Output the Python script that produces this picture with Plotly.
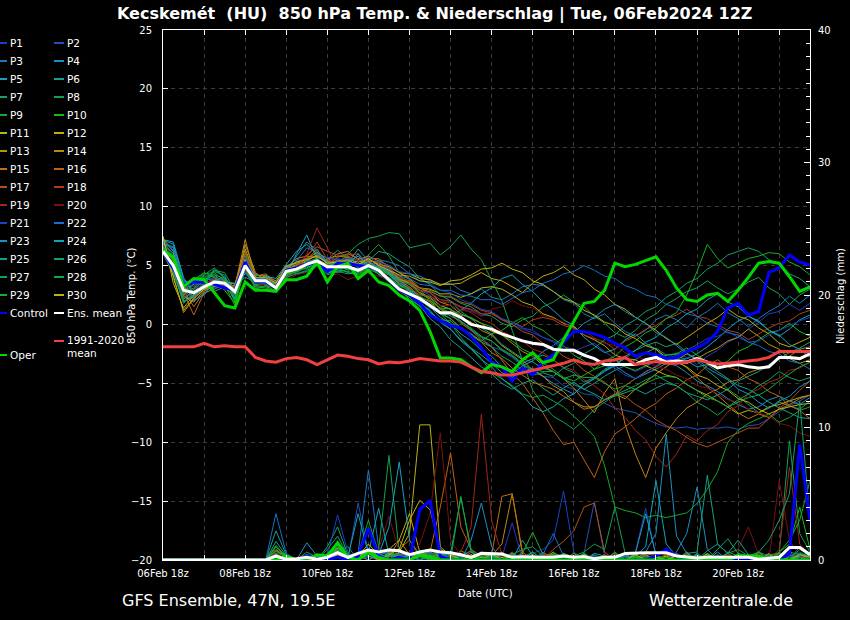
import plotly.graph_objects as go
import pandas as pd

# ---------------- time axis (6-hourly, 06Feb 18z .. 22Feb 12z) ----------------
times = pd.date_range("2024-02-06 18:00", periods=64, freq="6h")
tick_labels_fmt = "%d%b %Hz"

# ---------------- 850 hPa temperature (°C) ----------------
t_control = [6.2,4.8,3.3,3.6,3.6,3.4,3.1,2.9, 5.3,3.6,3.6,3.1,4.6,4.8,5.05,5.3, 4.5,5.2,5.2,5.0,4.9,4.6,3.8,2.9,
             2.5,1.8,0.8,0.3,-0.1,-0.3,-1.0,-2.0, -3.2,-3.6,-4.8,-3.7,-4.3,-3.2,-2.6,-1.5, -0.6,-0.6,-0.8,-1.1,-1.6,-2.0,-2.7,-2.4,
             -2.6,-2.85,-2.85,-2.3,-2.0,-1.5,-0.6,1.4, 1.8,0.8,1.1,4.4,4.8,5.9,5.3,5.05]
t_oper = [6.3,5.7,3.2,3.9,3.8,2.7,1.6,1.4, 3.6,2.9,2.9,2.8,3.8,3.8,4.1,5.3, 3.6,4.9,5.2,3.9,4.6,3.6,3.3,2.5,
          2.0,1.2,-0.6,-2.85,-2.85,-3.0,-3.6,-4.1, -3.4,-3.6,-4.0,-3.0,-2.4,-3.25,-3.0,-1.3, 0.3,1.8,1.95,2.9,5.2,4.9,5.1,5.4,
          5.75,4.6,3.1,2.1,1.95,2.5,2.65,1.95, 2.9,4.0,5.2,5.35,5.2,4.05,2.8,3.2]
t_mean = [6.2,5.0,2.9,2.7,3.2,3.6,3.5,2.8, 5.0,3.7,3.7,3.1,4.5,4.7,5.1,5.4, 4.9,4.9,4.9,4.6,5.0,4.6,3.8,3.0,
          2.6,2.2,1.6,1.0,1.0,0.6,0.0,-0.2, -0.4,-0.8,-1.1,-1.4,-1.6,-1.7,-2.1,-2.2, -2.2,-2.6,-2.9,-3.4,-3.4,-3.4,-3.4,-3.0,
          -2.8,-3.2,-3.1,-3.2,-2.9,-3.2,-3.7,-3.5, -3.4,-3.6,-3.7,-3.6,-2.8,-2.8,-2.9,-2.5]
t_clim = [-1.9,-1.9,-1.9,-1.9,-1.6,-1.9,-1.8,-1.9, -1.9,-2.8,-3.1,-3.2,-2.9,-2.8,-3.0,-3.4, -3.0,-2.6,-2.7,-2.9,-3.0,-3.35,-3.2,-3.25,
          -3.1,-2.9,-3.0,-3.1,-3.1,-3.2,-3.6,-4.0, -4.1,-4.3,-4.3,-4.1,-3.9,-3.7,-3.5,-3.3, -3.0,-3.3,-3.4,-3.1,-3.0,-2.8,-3.4,-3.3,
          -3.15,-3.3,-3.3,-3.2,-3.0,-3.2,-3.35,-3.3, -3.2,-3.1,-3.0,-2.8,-2.3,-2.3,-2.3,-2.3]

t_p01 = [6.5,5.5,3.5,3.0,3.4,3.3,3.0,2.5,4.8,3.5,3.8,3.2,4.4,5.0,5.6,5.8,5.2,5.0,5.5,4.8,5.3,4.9,
         4.5,3.9,3.5,2.9,2.7,2.1,2.0,1.5,1.2,0.7,1.0,0.4,0.0,-0.4,-0.7,-1.1,-1.5,-2.1,-2.3,-1.9,-1.6,-2.3,-2.9,-3.6,
         -4.0,-3.6,-3.1,-2.9,-2.4,-2.8,-3.4,-2.7,-2.2,-1.5,-1.1,-0.4,0.2,0.9,1.1,1.7,1.2,1.8]
t_p02 = [6.0,4.8,2.5,2.9,3.8,3.9,3.4,3.0,5.5,4.0,3.5,3.4,4.8,4.6,5.3,6.0,5.4,5.6,5.3,5.2,5.1,5.2,
         4.8,4.1,3.6,2.9,2.5,1.6,1.3,0.3,-0.5,-1.1,-1.9,-2.2,-2.8,-3.5,-3.9,-4.4,-4.5,-5.2,-5.5,-5.9,-6.0,-6.7,-7.1,-7.3,
         -7.5,-8.0,-8.4,-8.7,-8.8,-8.7,-8.9,-8.8,-8.8,-8.7,-8.9,-8.6,-8.5,-8.0,-7.4,-6.9,-6.5,-6.0]
t_p03 = [6.8,6.5,3.0,2.0,2.6,3.1,3.8,2.2,4.5,3.2,3.9,3.0,4.0,5.4,6.5,6.2,5.0,4.7,5.8,5.0,4.6,5.5,
         5.3,5.0,4.3,4.1,3.7,3.4,3.5,2.9,2.6,3.0,2.3,2.1,2.6,3.2,3.4,3.3,2.8,2.1,1.8,0.9,0.5,0.9,0.1,-0.6,
         -1.0,-0.5,0.4,0.8,0.4,-0.3,0.6,1.1,1.8,1.0,0.5,-0.2,0.5,1.1,1.6,2.4,1.8,2.5]
t_p04 = [7.0,6.0,2.2,2.4,3.0,3.4,3.9,2.6,5.2,3.0,3.3,2.8,4.6,4.5,5.0,5.7,5.5,6.3,5.6,4.9,5.6,5.0,
         4.6,3.9,2.9,1.9,1.1,0.2,-0.4,-1.3,-2.0,-2.6,-3.3,-4.1,-4.5,-4.0,-3.7,-4.4,-5.0,-5.5,-5.9,-5.1,-4.6,-4.0,-3.5,-4.1,
         -4.6,-4.2,-3.8,-3.3,-3.5,-4.1,-4.8,-5.2,-5.7,-6.3,-6.8,-7.2,-7.0,-6.4,-6.1,-6.5,-6.8,-6.2]
t_p05 = [7.2,6.8,3.8,2.8,3.5,2.8,3.2,3.3,4.0,3.6,4.2,3.5,4.2,6.0,7.6,5.5,4.5,4.9,5.2,6.4,5.4,4.8,
         4.4,3.5,3.1,2.3,1.7,0.9,0.8,1.2,1.8,2.6,3.1,3.9,4.2,3.4,2.8,1.9,1.2,0.4,-0.1,-1.1,-1.8,-2.4,-2.1,-1.3,
         -0.8,-1.6,-2.1,-3.0,-3.0,-2.9,-2.5,-1.9,-1.2,-0.4,0.3,0.7,0.3,-0.5,-1.0,-0.4,0.4,0.8]
t_p06 = [6.4,5.2,2.0,2.3,3.6,4.3,3.2,2.4,5.6,3.9,4.0,3.3,4.9,4.8,4.7,5.2,4.6,4.4,4.7,4.5,5.2,4.2,
         3.9,3.1,2.1,1.6,0.5,-0.2,-1.3,-2.0,-2.8,-3.6,-4.2,-5.0,-5.5,-5.0,-4.7,-5.4,-6.0,-5.4,-4.9,-5.5,-5.0,-4.4,-3.9,-3.5,
         -3.0,-2.4,-2.0,-2.6,-2.5,-3.1,-3.6,-3.4,-4.0,-4.6,-5.2,-5.5,-6.0,-6.6,-7.1,-7.5,-7.9,-8.0]
t_p07 = [6.6,5.6,2.8,3.4,4.0,4.1,3.6,2.0,4.9,3.4,3.6,3.0,4.3,4.4,4.9,5.1,4.2,4.6,4.5,4.3,4.8,4.4,
         4.0,3.3,2.4,2.1,1.4,1.3,0.7,0.3,-0.4,-1.1,-1.4,-2.1,-2.6,-3.3,-2.9,-2.6,-3.0,-3.7,-4.1,-4.9,-4.5,-3.8,-3.4,-2.9,
         -2.2,-1.8,-1.5,-1.9,-1.6,-2.4,-3.1,-3.9,-4.6,-5.5,-6.1,-6.8,-7.5,-7.1,-6.6,-6.9,-7.2,-6.5]
t_p08 = [6.0,4.5,1.8,2.6,3.3,4.6,4.4,2.9,5.3,3.8,3.7,3.6,4.7,4.3,4.6,5.0,4.7,5.3,4.9,4.7,5.0,4.6,
         4.3,3.7,3.4,2.9,2.8,2.4,2.3,1.8,1.5,0.9,0.7,0.1,-0.2,0.4,0.7,1.5,1.9,2.5,1.9,1.5,0.7,0.1,-0.7,-1.1,
         -0.5,0.4,0.9,1.7,2.2,2.8,3.1,3.7,3.1,2.6,3.0,3.6,4.0,3.1,2.6,1.7,2.5,3.0]
t_p09 = [6.9,5.9,3.3,3.6,4.1,4.2,3.9,3.1,6.0,3.9,3.4,3.2,4.5,4.7,5.2,5.5,5.1,5.2,4.6,4.8,5.9,6.8,
         5.8,4.4,3.8,2.9,2.1,0.9,0.1,-1.1,-2.0,-2.9,-4.1,-4.6,-5.2,-5.9,-6.2,-6.0,-6.5,-7.0,-7.8,-8.6,-9.5,-12.0,-15.5,-15.8,
         -16.0,-16.4,-16.2,-16.4,-16.2,-16.0,-15.2,-14.0,-12.5,-10.0,-9.0,-8.4,-8.0,-7.6,-8.3,-7.9,-7.3,-7.0]
t_p10 = [6.3,5.3,2.6,3.1,3.9,3.7,2.9,1.8,4.7,3.3,3.2,2.9,4.1,4.5,4.8,5.3,4.3,4.8,4.4,4.2,4.7,4.3,
         3.6,2.8,2.3,1.5,1.0,0.4,0.3,-0.4,-0.8,-1.4,-0.8,-0.5,0.1,0.6,-0.1,-0.5,-1.2,-1.8,-2.6,-3.1,-3.8,-3.5,-3.0,-3.6,
         -3.9,-3.5,-3.1,-2.6,-2.5,-2.0,-2.6,-3.2,-3.6,-3.1,-2.3,-1.9,-1.3,-0.7,-0.5,0.1,-0.6,-1.0]
t_p11 = [7.5,3.5,1.4,2.5,3.1,3.5,3.3,2.7,5.0,3.6,3.9,3.4,4.6,5.1,5.3,5.6,5.0,5.1,5.2,4.9,5.3,4.7,
         4.4,3.8,3.6,3.1,3.0,2.6,2.6,2.3,2.6,3.1,3.2,3.0,2.5,1.9,1.6,0.9,0.6,0.1,-0.2,-0.9,-1.3,-1.8,-2.6,-2.9,
         -3.0,-3.5,-3.9,-4.3,-4.5,-5.1,-5.6,-6.0,-6.5,-7.0,-7.6,-7.3,-7.5,-7.0,-6.8,-6.5,-6.2,-6.0]
t_p12 = [7.3,6.2,3.1,2.8,3.2,3.6,3.7,3.4,6.4,4.2,4.1,3.7,5.0,5.2,5.4,5.9,5.3,5.4,5.5,5.3,5.5,5.1,
         4.9,4.4,4.3,3.9,3.8,3.4,3.4,3.5,4.0,4.4,3.9,3.7,3.2,2.7,3.5,4.1,4.4,4.9,4.2,3.8,3.0,2.5,1.7,1.3,
         0.6,0.1,-0.5,-1.2,-1.7,-1.1,-0.5,0.1,0.6,1.3,0.7,0.4,-0.3,-0.8,-1.6,-1.9,-1.5,-1.1]
t_p13 = [6.7,5.0,2.4,1.9,2.9,3.2,3.5,2.8,6.8,4.4,3.7,3.1,4.7,5.3,5.6,6.1,5.6,5.8,5.7,5.1,5.4,5.3,
         4.6,3.9,3.5,2.7,2.3,1.6,1.3,0.6,0.2,-0.5,-0.9,-1.8,-2.4,-3.0,-3.9,-4.4,-5.2,-5.7,-6.6,-7.0,-7.0,-6.4,-5.9,-6.3,
         -5.5,-4.9,-4.2,-3.6,-3.0,-2.5,-2.9,-2.4,-2.0,-1.4,-1.1,-0.4,-1.0,-1.7,-2.1,-2.9,-3.3,-3.0]
t_p14 = [6.1,4.2,1.0,2.2,3.0,3.8,3.6,3.2,7.2,4.0,3.6,3.3,4.8,5.6,5.8,5.7,5.4,6.0,6.2,5.5,5.8,5.4,
         5.0,4.4,3.9,3.1,2.7,1.9,1.6,0.9,0.5,0.1,-0.6,-0.9,-1.6,-2.3,-2.7,-3.5,-4.0,-4.6,-5.4,-6.5,-7.5,-5.8,-4.6,-8.5,
         -11.0,-13.0,-10.5,-9.2,-8.0,-7.1,-6.6,-5.9,-5.5,-4.9,-4.7,-4.1,-3.8,-3.5,-2.9,-2.7,-2.1,-1.9]
t_p15 = [6.5,5.4,2.9,1.5,2.8,3.3,3.1,2.6,5.8,3.7,3.8,3.5,4.4,4.9,5.0,5.4,4.8,5.5,5.4,5.0,4.9,4.9,
         4.5,3.7,3.2,2.4,1.9,1.0,0.5,-0.3,-0.9,-1.5,-2.4,-2.9,-3.7,-4.3,-4.9,-5.2,-5.5,-6.1,-6.6,-7.2,-7.0,-6.4,-6.0,-5.2,
         -4.6,-4.0,-3.6,-3.1,-3.0,-3.7,-4.5,-5.3,-6.0,-6.8,-7.5,-8.0,-7.6,-7.9,-7.2,-6.8,-6.3,-6.0]
t_p16 = [6.2,4.9,2.7,0.8,2.7,3.0,3.4,2.9,6.2,4.1,4.3,3.6,4.5,5.0,5.5,6.4,5.1,5.7,6.0,5.6,5.6,5.6,
         4.8,4.1,3.6,2.7,2.1,1.3,0.9,0.1,-0.5,-1.3,-1.9,-3.1,-4.2,-5.0,-6.2,-7.5,-9.0,-10.2,-10.0,-11.5,-13.0,-10.8,-9.3,-8.7,
         -8.0,-7.2,-6.7,-5.9,-5.4,-4.7,-4.3,-3.5,-3.0,-3.6,-3.9,-4.6,-5.0,-5.7,-6.1,-6.9,-7.3,-8.0]
t_p17 = [6.8,5.7,3.4,2.3,3.3,3.5,3.7,3.0,5.4,3.8,3.6,3.0,4.2,4.7,5.9,6.6,6.2,5.9,5.8,5.4,5.5,5.2,
         4.6,4.0,3.7,3.1,2.9,2.4,2.4,1.9,1.7,1.2,1.0,0.4,0.0,-0.6,-0.9,-1.6,-2.0,-2.7,-3.1,-3.9,-4.4,-4.9,-5.7,-6.1,
         -6.8,-7.3,-8.1,-8.6,-9.0,-9.6,-10.1,-10.4,-10.0,-9.6,-9.2,-8.8,-8.8,-8.0,-7.1,-6.5,-5.6,-4.8]
t_p18 = [6.3,5.1,2.3,2.7,3.4,3.9,3.8,3.1,5.1,3.5,3.4,2.7,3.9,4.6,5.7,7.0,5.5,5.1,5.9,6.0,5.2,4.5,
         4.2,3.5,3.1,2.5,2.4,1.9,1.9,1.5,1.3,0.9,0.9,0.4,0.2,-0.2,0.4,0.6,0.4,-0.1,-0.3,-0.9,-1.2,-1.5,-2.1,-1.4,
         -1.0,-0.4,-0.1,0.5,0.8,1.3,0.7,0.5,0.0,-0.5,-0.7,-1.3,-0.8,-0.3,0.1,0.3,0.9,1.2]
t_p19 = [6.6,5.5,3.2,3.3,3.7,3.6,3.3,2.5,4.6,3.1,3.5,3.2,4.3,4.8,6.0,8.2,6.5,4.8,5.0,4.6,4.5,5.0,
         4.8,4.1,3.6,2.9,2.7,2.1,2.0,1.4,1.0,0.4,0.1,-0.6,-1.0,-1.4,-2.1,-2.4,-3.0,-3.6,-3.9,-4.7,-5.2,-5.9,-7.1,-7.9,
         -9.0,-9.8,-11.2,-12.1,-11.0,-9.4,-9.9,-9.0,-8.5,-7.4,-6.9,-5.9,-5.5,-4.9,-4.6,-3.9,-3.7,-3.2]
t_p20 = [6.4,5.3,3.0,2.9,3.5,3.4,3.0,2.4,4.9,3.4,3.7,3.3,3.8,4.2,4.4,4.9,4.0,4.3,3.8,4.1,4.4,4.1,
         3.8,3.1,2.8,2.2,2.1,1.6,1.6,1.2,1.1,0.8,1.3,1.5,2.0,1.6,1.4,0.8,0.5,0.2,-0.4,-0.6,-1.1,-1.6,-1.8,-2.4,
         -2.7,-3.0,-3.6,-3.8,-4.3,-4.6,-5.2,-5.4,-5.9,-6.4,-6.6,-7.2,-7.5,-7.8,-8.4,-8.6,-9.2,-9.5]
t_p21 = [6.7,5.8,3.6,3.2,3.8,4.0,3.6,2.3,5.7,3.6,3.9,3.1,4.4,4.8,5.3,5.6,5.7,5.5,5.6,5.4,5.7,5.3,
         5.0,4.5,4.3,3.7,3.5,2.9,2.7,2.1,1.8,1.3,1.1,0.5,0.2,-0.3,-0.5,-1.1,-1.4,-1.9,-2.1,-2.7,-3.0,-3.5,-3.7,-4.3,
         -4.6,-4.1,-3.5,-3.0,-2.6,-2.2,-1.7,-1.2,-1.0,-0.6,-1.1,-1.5,-1.4,-0.9,-0.5,-0.1,0.3,0.6]
t_p22 = [7.1,6.3,3.7,3.5,3.3,3.0,3.5,2.7,4.4,3.9,4.0,3.4,4.9,5.5,5.4,5.3,5.0,5.4,5.1,5.0,5.1,5.0,
         4.7,4.1,3.9,3.4,3.3,2.9,2.9,2.5,2.4,2.1,2.1,1.7,2.2,2.7,2.9,3.5,3.8,4.3,4.5,5.0,4.6,4.1,3.9,3.3,
         3.0,2.5,2.3,1.7,1.4,0.9,0.7,0.1,-0.2,-0.7,-0.9,-1.5,-1.8,-2.3,-2.5,-3.1,-3.3,-3.8]
t_p23 = [6.9,6.6,3.4,2.1,2.5,3.7,4.0,2.9,5.0,4.3,3.8,3.0,4.6,5.8,7.0,6.3,5.3,5.0,5.3,5.8,5.0,4.8,
         4.5,3.6,3.0,2.0,1.5,0.6,0.1,-0.8,-1.4,-2.2,-2.7,-3.6,-4.2,-3.5,-3.1,-2.3,-1.8,-1.1,-0.7,0.1,0.6,1.3,1.7,1.1,
         0.6,0.1,-0.7,-1.1,-1.8,-2.5,-2.9,-3.7,-4.2,-4.7,-5.5,-5.9,-6.6,-7.1,-6.5,-6.1,-5.3,-4.8]
t_p24 = [7.2,7.0,4.0,2.5,3.0,3.2,3.6,3.5,4.3,3.5,4.1,3.9,5.1,6.2,6.8,6.0,5.2,5.3,5.0,6.0,4.8,4.9,
         4.3,3.4,2.8,1.8,1.2,0.2,-0.4,-1.4,-2.1,-3.0,-3.6,-4.6,-5.3,-6.0,-7.0,-7.4,-7.0,-6.3,-5.9,-5.1,-4.6,-3.9,-3.5,-2.7,
         -2.2,-1.5,-1.1,-0.3,0.2,0.9,1.3,2.1,2.6,1.9,1.5,0.7,0.2,-0.5,-0.9,-1.7,-2.1,-2.8]
t_p25 = [6.2,4.6,2.1,3.0,3.7,4.5,4.2,2.2,5.4,3.7,3.5,3.2,4.5,4.6,5.0,5.3,4.4,4.7,4.8,4.6,5.4,6.2,
         6.0,5.4,4.9,3.9,3.4,2.5,2.0,1.1,0.5,-0.3,-0.8,-1.7,-2.3,-2.9,-3.2,-3.7,-4.0,-4.6,-5.1,-5.5,-5.9,-6.4,-6.1,-5.8,
         -5.5,-5.9,-5.4,-5.0,-5.2,-5.8,-6.1,-6.4,-6.0,-5.5,-4.8,-4.4,-4.0,-3.4,-2.9,-2.4,-2.0,-1.5]
t_p26 = [6.0,4.4,1.9,2.4,3.5,4.7,3.9,1.9,5.1,3.2,3.1,2.8,4.0,4.3,4.5,5.0,4.4,4.5,4.3,4.4,4.8,4.5,
         4.0,3.3,2.9,2.1,1.7,0.9,0.5,-0.3,-0.8,-1.5,-1.9,-2.7,-3.2,-3.9,-4.3,-4.1,-4.4,-3.7,-3.3,-2.5,-2.0,-1.3,-0.9,-0.1,
         0.4,1.1,1.5,2.3,2.8,3.5,3.9,4.7,5.2,5.9,6.2,6.5,6.2,5.5,5.1,4.3,3.9,3.2]
t_p27 = [6.4,5.1,2.5,3.5,4.2,4.8,4.0,2.5,5.0,3.8,3.6,3.4,4.7,4.8,5.1,5.4,4.9,5.1,6.0,6.8,7.3,7.5,
         7.8,7.7,6.5,6.7,6.9,5.9,6.6,7.6,6.4,5.5,3.8,2.0,-0.5,-3.0,-5.6,-6.8,-7.8,-8.3,-8.9,-8.1,-7.2,-6.6,-6.0,-5.6,
         -5.2,-4.7,-4.3,-4.8,-5.2,-5.8,-6.6,-7.1,-7.7,-7.0,-6.4,-5.9,-5.2,-4.7,-4.0,-4.5,-4.8,-4.5]
t_p28 = [6.6,5.4,2.8,3.7,4.3,4.4,3.7,2.1,4.8,3.0,3.3,3.1,4.2,4.5,5.0,5.2,4.6,4.9,4.7,4.5,5.1,4.8,
         4.4,3.8,3.4,2.6,2.2,1.4,1.0,0.2,-0.3,-1.0,-1.4,-2.2,-2.7,-3.4,-3.8,-4.0,-4.0,-4.6,-4.3,-4.5,-4.5,-5.0,-5.5,-5.2,
         -5.5,-5.0,-4.6,-4.4,-4.5,-5.1,-5.6,-6.2,-6.5,-7.0,-6.6,-6.2,-6.0,-5.5,-4.8,-4.2,-3.6,-3.2]
t_p29 = [6.5,5.6,3.1,3.8,4.4,4.0,3.4,1.6,5.2,3.4,3.5,3.0,4.3,4.6,5.2,5.6,4.9,5.3,4.9,4.7,5.0,4.8,
         4.2,3.4,3.0,2.3,2.0,1.4,1.3,0.8,0.6,0.1,-0.2,-0.9,-1.4,-2.1,-2.5,-3.3,-3.8,-4.5,-4.8,-4.3,-3.8,-3.1,-2.7,-1.9,
         -1.4,-0.7,-0.3,0.5,1.0,2.5,4.5,6.8,5.6,4.8,5.2,5.6,5.8,6.1,6.0,5.3,4.9,4.2]
t_p30 = [7.4,4.0,1.2,2.2,3.0,3.4,3.5,3.0,5.5,4.0,4.0,3.5,4.9,5.3,5.5,5.8,5.2,5.3,5.4,5.1,5.6,5.0,
         4.6,4.2,4.1,3.7,3.6,3.3,3.7,3.8,4.2,4.7,4.8,5.2,4.7,4.4,3.7,3.4,2.8,2.2,1.9,1.2,0.8,0.2,-0.1,-0.8,
         -1.2,-1.8,-2.1,-2.8,-3.2,-3.6,-4.3,-4.6,-5.2,-5.6,-6.3,-6.6,-7.2,-7.6,-7.2,-7.0,-6.8,-6.7]

# ---------------- precipitation (mm / 6h) ----------------
pr_control = [0,0,0,0,0,0,0,0, 0,0,0,0,0,0,0.3,0.1, 0,0.2,0,0.3,2.4,0.3,0,0.2, 0,3.8,4.5,0.3,0,0,0,0,
              0,0,0,0,0,0,0,0, 0,0,0,0,0,0,0,0, 0.3,0.8,0.3,0,0,0,0,0, 0,0,0,0,0,0.5,8.7,3.0]
pr_oper = [0,0,0,0,0,0,0,0, 0,0,0,0,0.3,0,0,0.4, 0.3,1.3,0.2,0,0.6,0.2,0,0, 0,0.4,0.2,0,0,0,0,0,
           0,0,0,0,0,0,0,0, 0,0,0,0,0,0,0,0, 0,0,0,0,0,0,0,0, 0.3,0.3,0.3,0,0,0,0,0]
pr_mean = [0,0,0,0,0,0,0,0, 0,0,0,0.3,0.05,0.1,0.2,0.05, 0.2,0.55,0.2,0.5,0.75,0.6,0.75,0.7,
           0.4,0.6,0.75,0.6,0.55,0.4,0.2,0.5, 0.45,0.45,0.2,0.25,0.2,0.2,0.2,0.3, 0.2,0.25,0.1,0.2,0.2,0.5,0.55,0.55,
           0.55,0.55,0.3,0.2,0.15,0.2,0.2,0.2, 0.2,0.2,0.05,0.1,0.2,0.95,0.95,0.4]

pr_p01 = [0,0,0,0,0,0,0,0, 0,0,0,0.3,0,0,0.2,0, 0,0.4,0,0.2,0.5,0,0.3,0, 0.2,0,0.4,0,0,0.3,0,0.5,
          0,0.2,2.8,0,0.3,0,0,0.2, 0,0.4,0,0,0.2,0,0.6,3.9, 0.3,0,0,0.2,0,0,0.1,0, 0,0.2,0,0,0,0.5,0,0.3]
pr_p02 = [0,0,0,0,0,0,0,0, 0,0,0,0.2,0,0,0,0, 0,0.3,0,4.3,0.6,0.2,0,0.3, 0,0.5,0,0.2,0,0,0.4,0,
          0,0,0,0.6,0,0.2,0,0, 0,0.5,4.4,0.3,0,0,0.2,0, 0,0.2,0,0,0,0,0,0.3, 0,0,0.4,0,0,0,0.6,0.2]
pr_p03 = [0,0,0,0,0,0,0,0, 0,0,0,0.4,0.1,0,0.3,0, 0.2,0.6,0,0.5,6.8,0.9,0.3,0, 0.4,0,0.6,0,0.2,0,0,0.3,
          0,0.4,0,0,0.2,0,0.3,0, 0,0,0.2,0,0,0,0,0.4, 0,0,0,0.2,0,0,0,0, 0,0.3,0,0,0,0,0.2,0]
pr_p04 = [0,0,0,0,0,0,0,0, 0,0,0,0.5,0,0,1.3,0.3, 0,0.5,0,0.2,0.4,0,0.6,0.2, 0.3,0.6,0,0.4,0,0.5,0,0,
          0.2,0,0.3,0,0,0.6,0,0.3, 0,0,0,0.3,0,0.2,0,0, 0.4,0,0.6,2.0,5.5,0.8,0,0.2, 0,0,0.3,0,0.2,0,0,0]
pr_p05 = [0,0,0,0,0,0,0,0, 0,0,0,0.3,0,0,0.2,0, 0,0.6,0,0.3,0.5,3.9,0.4,0.2, 0,0.3,0.2,0,0.4,0,0.2,0,
          0,0,0.5,0,0,0.2,0,0, 0.3,0,0,0,0.2,0,0.5,3.5, 0.4,0,0,0,0.3,0,0.6,0, 0.2,0,0,0,0,0.4,0,0.2]
pr_p06 = [0,0,0,0,0,0,0,0, 0,0,0,2.2,0.4,0,0.3,0, 0.5,0.8,0,0.3,0.2,0.6,0,0.4, 0,0.2,0.5,0,0,0.3,0,0.2,
          0,0.6,0,1.5,0.3,0,0,0, 0,0.3,0,0,0,0.5,0,0.3, 0,0,0.4,0,0,0.7,1.2,0.5, 0,0.4,0,0.3,0,0,1.0,0.5]
pr_p07 = [0,0,0,0,0,0,0,0, 0,0,0,0.4,0,0,0.3,0, 1.0,2.5,0.4,0.2,0.8,0,0.3,0.5, 0,0.4,0,0.3,0,0.2,0,0,
          0.3,0,0,0.2,0.6,0,0.4,0, 0,0,0.3,0,0,0,0.2,0, 0,0.3,0,0,0.5,0,0,0.2, 0,0,0.6,0.3,0,0,0.4,0]
pr_p08 = [0,0,0,0,0,0,0,0, 0,0,0,0.5,0,0,0.6,0.2, 0.3,0.7,1.0,0,0.4,0.8,7.9,0.6, 0.3,0,0.4,0,0.2,0,0,0.3,
          0,0.3,0,0,0.4,0,0.2,0, 0,0,0.3,0,0.6,0,0,0, 0.2,0,0,0.3,0,0,0,0.5, 0.8,0.3,0,0,0.5,9.0,2.0,0.6]
pr_p09 = [0,0,0,0,0,0,0,0, 0,0,0,0.6,0.2,0,0.3,0, 0.2,0.9,0,0.4,3.0,0.5,0,0.3, 0.2,0,0,0.5,0,0.3,0,0,
          0.4,0,0,0.2,0,0,0.3,0, 0,0.2,0,0,0,0,0,0, 0,0,0,0,0,0,0,0.2, 0,0.3,0,0,0,0.2,0,0.4]
pr_p10 = [0,0,0,0,0,0,0,0, 0,0,0,1.0,0.3,0,0.2,0, 0.4,1.3,0.2,0.5,0.6,0,0.3,0.4, 0,0.3,0,0.2,0.6,0,0.4,0,
          0.3,0,0,0.5,2.1,0.4,0,0.3, 0,0,0.2,0.3,0,0,0.4,0, 0,0.3,0,0,0,0.3,0,0, 0.5,0,0.2,0,0.6,1.2,4.0,0.8]
pr_p11 = [0,0,0,0,0,0,0,0, 0,0,0,0.3,0,0,0.2,0, 0,0.5,0,0.3,1.2,0.4,0,0.6, 2.0,10.2,10.2,1.0,0.3,0,0.4,0,
          0,0.2,0,0.3,0,0,0.6,0, 0,0,0.3,0,0,0.2,0,0, 0.3,0,0,0,0.4,0,0,0, 0,0.2,0,0.4,0,0,0.3,0]
pr_p12 = [0,0,0,0,0,0,0,0, 0,0,0,0.2,0,0,0.3,0, 0,0.9,0.3,0,0.4,0.6,0.8,1.5, 3.5,0.6,0.3,0.5,0,0.3,0,0.2,
          0,0,0.4,0,0.3,0,0,0.5, 0.2,0,0,0,0.3,0,0.2,0, 0,0.3,0,0,0,0.4,0,0, 0.2,0,0,0.5,0,0,0.2,0.3]
pr_p13 = [0,0,0,0,0,0,0,0, 0,0,0,0.4,0,0,0.4,0.2, 0,0.6,0,0.3,0.5,0,0.2,1.5, 0.4,0,0.8,0.3,0,0.5,0,0.4,
          0,0.6,0,0,0.3,0,0.4,0.2, 0,0.3,0,0.4,0,0,0.3,0, 0,0,0.5,0,0,0.2,0,0, 0.4,0,0,0,0.3,0,0,0.5]
pr_p14 = [0,0,0,0,0,0,0,0, 0,0,0,0.8,0.2,0,0,0.3, 0,0.4,0,0.6,0.3,0,0.5,0.2, 0,0.7,0.3,0,0.4,0,0.6,0,
          0.3,1.2,5.0,0.4,0,0.3,0,0, 0.5,0,0,0.3,0,0,0.2,0.4, 0,0,0,0.6,0,0,0.3,0, 0,0.4,0,0,0.2,0,0.3,0]
pr_p15 = [0,0,0,0,0,0,0,0, 0,0,0,0.4,0,0,0.2,0, 0.3,0.7,0,0.3,0,0.5,0,0.3, 0.6,0,0.4,0.2,0,0.7,0.3,0,
          0.4,4.8,5.0,0.6,0,0.2,0.4,0, 0,0.3,0,0,0.5,0,0,0.3, 0,0.4,0,0,0,0.3,0,0.2, 0,0,0.5,0,0,0.3,0,0]
pr_p16 = [0,0,0,0,0,0,0,0, 0,0,0,0.7,0.3,0,0.4,0, 0.2,0.5,0.3,0,0.6,0.4,0,0.8, 1.5,0.3,0.6,4.0,8.1,2.5,0.8,0.3,
          0,0.4,0,0.3,0,0.5,0.3,0, 0.3,0,0,0.2,0,0.4,0,0, 0.3,0,0,0.4,0,0,0.3,0, 0,0.2,0,0,0.6,0,0.4,0]
pr_p17 = [0,0,0,0,0,0,0,0, 0,0,0,0.3,0,0,0.3,0, 0,0.5,0,0.4,0.3,0,0.6,0.3, 0,0.4,0,0.3,0.5,0,0.2,0.4,
          0.3,0,0.6,0,0.3,0,0.8,1.4, 2.2,4.0,4.3,0.6,0,0.3,0,0.2, 0,0.4,0,0,0.3,0,0,0.4, 0,0,0.3,0,0.5,0,0,0.3]
pr_p18 = [0,0,0,0,0,0,0,0, 0,0,0,0.5,0,0,0.2,0, 0.4,0.6,0,0.2,0.5,0.3,0,0.4, 0.3,0,0.5,0,0.3,0,0.6,0,
          0,0.3,0,0.4,0,0,0.3,0, 0,0.2,0,0.3,0,0,0,0.5, 0.3,0,0,0.2,0,0,0.4,0, 0,0.3,0,0,0.2,0.6,0,0]
pr_p19 = [0,0,0,0,0,0,0,0, 0,0,0,0.3,0,0,0.2,0, 0,0.5,0,0.3,0.4,0.6,0,0.3, 0.4,0,0.5,0.3,0,0.6,2.5,11.0,
          3.0,0.4,0,0.3,0,0.5,0,0, 0.3,0,0,0.4,0,0.3,0,0, 0,0.5,0,0,0,0.3,0,0.2, 0,0,0.5,0,0.8,7.0,1.2,0.4]
pr_p20 = [0,0,0,0,0,0,0,0, 0,0,0,0.6,0,0,0,0.2, 0,0.3,0.4,0,0.5,0.8,3.3,0.6, 0.4,1.2,3.5,9.6,1.5,0.3,0,0.4,
          0,0.3,0,0.2,0,0.3,0,0, 0.2,0,0.3,0,0,0,0.3,0, 0,0.2,0,0,0.4,0,0,0.3, 0.8,2.5,0.4,0,6.0,1.5,0.3,0]
pr_p21 = [0,0,0,0,0,0,0,0, 0,0,0,0.4,0,0,0.4,0.2, 0.3,3.4,0.6,0,0.3,0.5,0,0.4, 0,0.3,0,0.6,0,0.2,0,0.3,
          0,0.4,0.3,0,0.5,0.8,1.5,5.2, 0.6,0,0.3,0,0,0.2,0,0, 0,0,0.3,0,0,0,0.4,0, 0.2,0,0,0,0,0.3,0,0.2]
pr_p22 = [0,0,0,0,0,0,0,0, 0,0,0,3.5,0.5,0,0.3,0, 0.2,0.6,0,0.4,0.7,0.3,0,0.5, 0.3,0,0.5,0,0.4,0,0.3,0,
          0.2,0,0.3,0,0,0.4,2.0,0.3, 0,0.3,0,0,0.2,0,0,0.3, 0,0,0.5,0,0,0.3,0,0, 0,0.4,0,0,0.3,0,0.2,0]
pr_p23 = [0,0,0,0,0,0,0,0, 0,0,0,0.4,0,0,0.2,0, 0,1.0,0.3,0.5,0,0.4,0.6,0, 0.5,0,0.3,0,0.6,0,1.5,4.3,
          1.0,0,0.4,0,0.3,0,0,0.5, 0,0.4,0,0,0,0.3,0,0.6, 2.0,9.5,1.8,0.5,0,0.4,0,0.3, 0,0,0.6,0,0.3,0,0,0.5]
pr_p24 = [0,0,0,0,0,0,0,0, 0,0,0,0.3,0,0,0.3,0, 0,0.4,0.2,3.5,0.5,0.4,2.5,7.4, 1.5,0.4,0,0.6,0,0.3,0.7,0,
          0.3,0,0.5,0,0,0.3,0,0.4, 0,0,0.5,0.3,0,0,0.3,1.0, 6.0,1.2,0.3,0,0.4,0,0.2,0, 0,0.4,0,0.3,0,0,0.3,0.6]
pr_p25 = [0,0,0,0,0,0,0,0, 0,0,0,1.4,0.3,0,0.3,0, 0.3,0.5,0,0.4,0.3,0,0.6,0.3, 0,0.4,0.6,0.3,0.5,4.7,0.8,0,
          0.4,0,0.3,0,0.6,0,0.3,0, 0,0.5,0,0.3,0,0.4,0,0, 0.3,0,0,0.5,0.6,6.4,1.2,0.5, 1.5,0.4,0,0.3,0,0.6,0.4,0.3]
pr_p26 = [0,0,0,0,0,0,0,0, 0,0,0,0.5,0,0,0.4,0, 0.8,1.8,0.3,0,0.5,0.3,0.4,0, 0.3,0,0.4,0,0,0.5,0,0.3,
          0,0.4,0,0.3,0,0,0.5,0.3, 0,0,0.4,0,0.3,0,0,0, 0.4,0,0,0,0.3,0,0.8,1.6, 0.5,0.3,0.6,1.5,3.0,5.0,12.0,3.0]
pr_p27 = [0,0,0,0,0,0,0,0, 0,0,0,1.0,0.2,0,0.3,0, 0.3,0.6,0,0.4,0.5,0,0.3,0.2, 0,0.3,0,0.5,0,0.4,0,0.6,
          0.3,0,0.4,0.8,1.0,0.3,0,0.4, 0.3,0.6,1.2,0.8,4.0,0.5,0.3,0, 0.2,0,0.4,0,0.3,0,0,0.6, 0.3,0,0,0.4,0.5,0,0.8,0.4]
pr_p28 = [0,0,0,0,0,0,0,0, 0,0,0,1.1,0.2,0,0.3,0, 0.4,0.7,0,0.3,0.5,0,0.4,0.3, 0,0.5,0.3,0.4,0,4.8,0.6,0,
          0.3,0,0.5,0,0.3,0,0.4,0, 0,0.3,0,0,0.4,0,0,0.3, 0,0.2,0,0.4,0,0,0.3,0, 0.4,0,0.3,0,0.6,1.5,3.0,6.0]
pr_p29 = [0,0,0,0,0,0,0,0, 0,0,0,0.7,0.2,0,0.4,0, 0.3,1.0,0,0.4,0.5,0.3,0,0.4, 0,0.3,0,0.4,0,0.5,0,0.3,
          0.4,0,0.3,0,0.4,0,0.2,0, 0,0.5,0,0.3,0,0,0.2,0, 0.3,0,0,0.2,0,0.4,0,0, 0.3,0,0.6,0,0.4,0,0.5,0.3]
pr_p30 = [0,0,0,0,0,0,0,0, 0,0,0,0.3,0,0,0.3,0, 0,0.4,0,0.3,0.6,0,0.4,0.8, 3.0,4.5,3.8,0.8,0.4,0,0.3,0,
          0.5,0,0.3,0,0.4,0,0,0.3, 0,0.4,0,0.2,0,0,0.4,0, 0.2,0,0.3,0,0,0.5,0,0, 0,0.3,0,0,0.2,0,0.4,0.2]

member_names = ["P%d" % k for k in range(1, 31)]
member_colors = ["#2838c8", "#2050b8", "#1e78c0", "#1a90c0", "#18a0b8", "#14a08c", "#14a070", "#14a050",
                 "#14a82c", "#18b818", "#b4b414", "#c0ac10", "#b89410", "#c08414", "#c07018", "#c06014",
                 "#b45014", "#b03c18", "#a02418", "#7c1010", "#1444c8", "#1470c8", "#1c90c0", "#14a4b8",
                 "#14a084", "#14a06c", "#14a050", "#14a838", "#18b020", "#bcb410"]
member_temp = [t_p01, t_p02, t_p03, t_p04, t_p05, t_p06, t_p07, t_p08, t_p09, t_p10,
               t_p11, t_p12, t_p13, t_p14, t_p15, t_p16, t_p17, t_p18, t_p19, t_p20,
               t_p21, t_p22, t_p23, t_p24, t_p25, t_p26, t_p27, t_p28, t_p29, t_p30]
member_prec = [pr_p01, pr_p02, pr_p03, pr_p04, pr_p05, pr_p06, pr_p07, pr_p08, pr_p09, pr_p10,
               pr_p11, pr_p12, pr_p13, pr_p14, pr_p15, pr_p16, pr_p17, pr_p18, pr_p19, pr_p20,
               pr_p21, pr_p22, pr_p23, pr_p24, pr_p25, pr_p26, pr_p27, pr_p28, pr_p29, pr_p30]

c_control = "#0000ff"
c_oper = "#00d800"
c_mean = "#ffffff"
c_clim = "#f04040"

FONT = "DejaVu Sans"
fig = go.Figure()

for name, col, tv, pv in zip(member_names, member_colors, member_temp, member_prec):
    fig.add_trace(go.Scatter(x=times[:len(tv)], y=tv, mode="lines", line=dict(color=col, width=1),
                             name=name, showlegend=False))
    fig.add_trace(go.Scatter(x=times[:len(pv)], y=pv, mode="lines", line=dict(color=col, width=1),
                             name=name, showlegend=False, yaxis="y2"))

fig.add_trace(go.Scatter(x=times, y=t_control, mode="lines", line=dict(color=c_control, width=3), showlegend=False))
fig.add_trace(go.Scatter(x=times, y=pr_control, mode="lines", line=dict(color=c_control, width=3), showlegend=False, yaxis="y2"))
fig.add_trace(go.Scatter(x=times, y=t_oper, mode="lines", line=dict(color=c_oper, width=3), showlegend=False))
fig.add_trace(go.Scatter(x=times, y=pr_oper, mode="lines", line=dict(color=c_oper, width=3), showlegend=False, yaxis="y2"))
fig.add_trace(go.Scatter(x=times, y=t_mean, mode="lines", line=dict(color=c_mean, width=3), showlegend=False))
fig.add_trace(go.Scatter(x=times, y=pr_mean, mode="lines", line=dict(color=c_mean, width=3), showlegend=False, yaxis="y2"))
fig.add_trace(go.Scatter(x=times, y=t_clim, mode="lines", line=dict(color=c_clim, width=3), showlegend=False))

# ---------------- layout geometry ----------------
L, R, T, B = 163, 40, 30, 60
W, H = 850, 620
PW, PH = W - L - R, H - T - B


def px(xp):
    return (xp - L) / PW


def py(yp):
    return (H - B - yp) / PH


annotations = []
shapes = []
LEG_FONT = dict(family=FONT, size=10.5, color="white")

# manual two-column legend
left_items = [("P%d" % k, member_colors[k - 1]) for k in range(1, 31, 2)] + [("Control", c_control)]
right_items = [("P%d" % k, member_colors[k - 1]) for k in range(2, 31, 2)] + [("Ens. mean", c_mean)]
for r, (lab, col) in enumerate(left_items):
    yy = 43 + 18 * r
    shapes.append(dict(type="line", xref="paper", yref="paper", x0=px(0), x1=px(7), y0=py(yy), y1=py(yy),
                       line=dict(color=col, width=2)))
    annotations.append(dict(text=lab, xref="paper", yref="paper", x=px(7.5), y=py(yy), xanchor="left",
                            yanchor="middle", showarrow=False, font=LEG_FONT))
for r, (lab, col) in enumerate(right_items):
    yy = 43 + 18 * r
    shapes.append(dict(type="line", xref="paper", yref="paper", x0=px(54), x1=px(64), y0=py(yy), y1=py(yy),
                       line=dict(color=col, width=2)))
    annotations.append(dict(text=lab, xref="paper", yref="paper", x=px(65), y=py(yy), xanchor="left",
                            yanchor="middle", showarrow=False, font=LEG_FONT))
shapes.append(dict(type="line", xref="paper", yref="paper", x0=px(54), x1=px(64), y0=py(341), y1=py(341),
                   line=dict(color=c_clim, width=2)))
annotations.append(dict(text="1991-2020", xref="paper", yref="paper", x=px(65), y=py(340), xanchor="left",
                        yanchor="middle", showarrow=False, font=LEG_FONT))
annotations.append(dict(text="mean", xref="paper", yref="paper", x=px(65), y=py(353), xanchor="left",
                        yanchor="middle", showarrow=False, font=LEG_FONT))
shapes.append(dict(type="line", xref="paper", yref="paper", x0=px(0), x1=px(7), y0=py(355), y1=py(355),
                   line=dict(color=c_oper, width=2)))
annotations.append(dict(text="Oper", xref="paper", yref="paper", x=px(7.5), y=py(355), xanchor="left",
                        yanchor="middle", showarrow=False, font=LEG_FONT))

# title and footer texts
annotations.append(dict(text="Kecskemét\u00a0\u00a0(HU)\u00a0\u00a0850 hPa Temp. & Niederschlag | Tue, 06Feb2024 12Z",
                        xref="paper", yref="paper", x=px(434.5), y=py(14), xanchor="center", yanchor="middle",
                        showarrow=False, font=dict(family=FONT, size=16, color="white", weight="bold")))
annotations.append(dict(text="GFS Ensemble, 47N, 19.5E", xref="paper", yref="paper", x=px(120), y=py(600),
                        xanchor="left", yanchor="middle", showarrow=False,
                        font=dict(family=FONT, size=16, color="white")))
annotations.append(dict(text="Wetterzentrale.de", xref="paper", yref="paper", x=px(795), y=py(600),
                        xanchor="right", yanchor="middle", showarrow=False,
                        font=dict(family=FONT, size=16, color="white")))
annotations.append(dict(text="Date (UTC)", xref="paper", yref="paper", x=px(485), y=py(593),
                        xanchor="center", yanchor="middle", showarrow=False,
                        font=dict(family=FONT, size=10, color="white")))
annotations.append(dict(text="850 hPa Temp. (°C)", xref="paper", yref="paper", x=px(131), y=py(296),
                        xanchor="center", yanchor="middle", textangle=-90, showarrow=False,
                        font=dict(family=FONT, size=10, color="white")))
annotations.append(dict(text="Niederschlag (mm)", xref="paper", yref="paper", x=px(840), y=py(296),
                        xanchor="center", yanchor="middle", textangle=-90, showarrow=False,
                        font=dict(family=FONT, size=10, color="white")))

grid_col = "#3c3c3c"
fig.update_layout(
    width=W, height=H,
    margin=dict(l=L, r=R, t=T, b=B),
    paper_bgcolor="black", plot_bgcolor="black",
    font=dict(family=FONT, size=10, color="white"),
    showlegend=False,
    annotations=annotations,
    shapes=shapes,
    xaxis=dict(
        type="date",
        range=[times[0], times[-1]],
        tick0="2024-02-06 18:00", dtick=2 * 86400000,
        tickformat=tick_labels_fmt,
        ticks="inside", ticklen=5, tickcolor="white",
        showline=True, linecolor="white", linewidth=1, mirror="allticks",
        showgrid=True, gridcolor=grid_col, griddash="4px,4px", gridwidth=1,
        minor=dict(dtick=86400000, tick0="2024-02-06 18:00", ticks="inside", ticklen=5, tickcolor="white",
                   showgrid=True, gridcolor=grid_col, griddash="4px,4px", gridwidth=1),
        tickfont=dict(family=FONT, size=10, color="white"),
        ticklabelstandoff=4,
        zeroline=False,
    ),
    yaxis=dict(
        range=[-20, 25], dtick=5, tick0=0,
        ticks="inside", ticklen=5, tickcolor="white",
        showline=True, linecolor="white", linewidth=1,
        showgrid=True, gridcolor=grid_col, griddash="4px,4px", gridwidth=1,
        zeroline=False,
        tickfont=dict(family=FONT, size=10, color="white"),
        ticklabelstandoff=8,
    ),
    yaxis2=dict(
        overlaying="y", side="right",
        range=[0, 40], dtick=10, tick0=0,
        ticks="inside", ticklen=6, tickcolor="white",
        minor=dict(dtick=1, ticks="inside", ticklen=4, tickcolor="white"),
        showline=True, linecolor="white", linewidth=1,
        showgrid=False, zeroline=False,
        tickfont=dict(family=FONT, size=10, color="white"),
        ticklabelstandoff=5,
    ),
)

fig.write_html("out.html", config={"displayModeBar": False},
               post_script="document.body.style.margin='0px';document.body.style.background='black';")
